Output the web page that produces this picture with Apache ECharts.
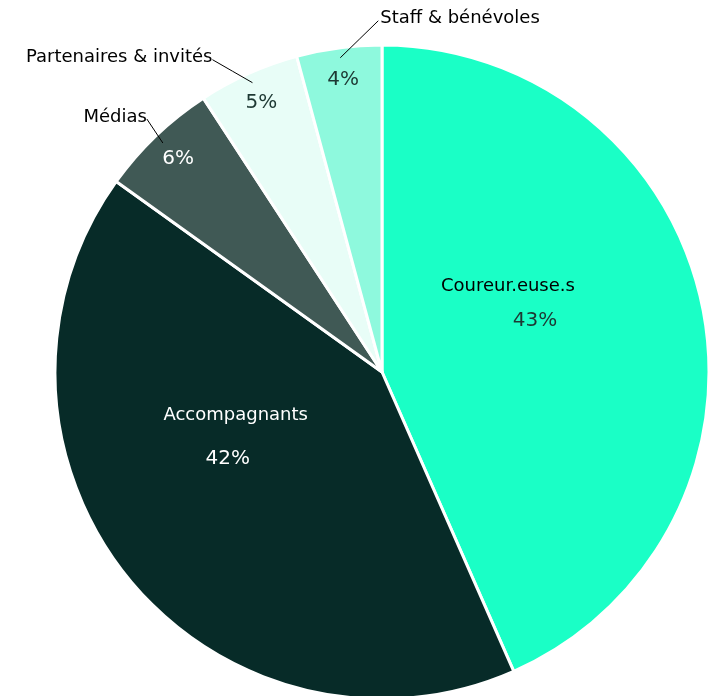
<!DOCTYPE html>
<html>
<head>
<meta charset="utf-8">
<script src="https://cdn.jsdelivr.net/npm/echarts@6/dist/echarts.min.js"></script>
<style>
    html, body { margin: 0; padding: 0; background: #fff; }
    #main { width: 713px; height: 696px; }
</style>
</head>
<body>
<div id="main"></div>
<script>
var categories = ['Coureur.euse.s', 'Accompagnants', 'Médias', 'Partenaires & invités', 'Staff & bénévoles'];
var values = [43.4, 41.5, 5.9, 5.0, 4.2];
var colors = ['#1affc6', '#072b28', '#405955', '#e8fdf7', '#8ef9dd'];
var textColors = ['#0d1f1c', '#ffffff', '#ffffff', '#1d3833', '#1d3833'];
var outsideNames = ['Médias', 'Partenaires & invités', 'Staff & bénévoles'];

var font = '"DejaVu Sans", "Noto Sans", sans-serif';
var fs = 18;     // noms
var fsPct = 20;  // pourcentages

var cx = 382, cy = 372, R = 327;

var isBig = function (i) { return outsideNames.indexOf(categories[i]) < 0; };
var pct = function (p) { return Math.round(p.percent) + '%'; };

var total = values.reduce(function (a, b) { return a + b; }, 0);
// angle milieu de chaque part, en degres depuis le haut, sens horaire
var midAngle = function (i) {
    var before = 0;
    for (var k = 0; k < i; k++) before += values[k];
    return (before + values[i] / 2) / total * 360;
};

var mainData = categories.map(function (c, i) {
    return {
        name: c,
        value: values[i],
        itemStyle: { color: colors[i] },
        label: { show: isBig(i) }
    };
});

var ringData = categories.map(function (c, i) {
    return {
        name: c,
        value: values[i],
        label: { show: !isBig(i), color: textColors[i] }
    };
});

var ghostData = categories.map(function (c, i) {
    return {
        name: c,
        value: values[i],
        label: { show: !isBig(i) },
        labelLine: { show: !isBig(i) }
    };
});

var insideShift = [[-37, -34], [-17, -40]];
var leader = [null, null, [-16, -24, 'right'], [-40, -23, 'right'], [38, -37, 'left']];

var option = {
    backgroundColor: '#ffffff',
    animation: false,
    series: [
        {
            type: 'pie',
            z: 2,
            center: [cx, cy],
            radius: R,
            startAngle: 90,
            clockwise: true,
            data: mainData,
            itemStyle: { borderColor: '#ffffff', borderWidth: 3 },
            label: {
                position: 'inside',
                fontFamily: font,
                fontSize: fs,
                formatter: function (p) {
                    if (p.dataIndex === 0) {
                        return '{n0|' + p.name + '}\n{p0|' + pct(p) + '}';
                    }
                    return '{n1|' + p.name + '}\n{p1|' + pct(p) + '}';
                },
                rich: {
                    n0: { fontFamily: font, fontSize: fs, color: '#000000', lineHeight: 34 },
                    p0: { fontFamily: font, fontSize: fsPct, color: '#1d3833', lineHeight: 34, padding: [0, 0, 0, 54] },
                    n1: { fontFamily: font, fontSize: fs, color: '#ffffff', lineHeight: 43 },
                    p1: { fontFamily: font, fontSize: fsPct, color: '#ffffff', lineHeight: 43, padding: [0, 16, 0, 0] }
                }
            },
            labelLayout: function (p) {
                var s = insideShift[p.dataIndex];
                return s ? { dx: s[0], dy: s[1] } : {};
            },
            labelLine: { show: false }
        },
        {
            type: 'pie',
            z: 3,
            center: [cx, cy],
            radius: [252, 332],
            startAngle: 90,
            clockwise: true,
            silent: true,
            data: ringData,
            itemStyle: { color: 'rgba(0,0,0,0)' },
            label: {
                position: 'inside',
                fontFamily: font,
                fontSize: fsPct,
                formatter: pct
            },
            labelLine: { show: false }
        },
        {
            type: 'pie',
            z: 4,
            center: [cx, cy],
            radius: 317,
            startAngle: 90,
            clockwise: true,
            silent: true,
            data: ghostData,
            itemStyle: { color: 'rgba(0,0,0,0)' },
            label: {
                position: 'outside',
                fontFamily: font,
                fontSize: fs,
                color: '#000000',
                formatter: '{b}'
            },
            labelLine: {
                length: 10,
                length2: 10,
                minTurnAngle: 0,
                maxSurfaceAngle: 180,
                lineStyle: { color: '#000000', width: 1 }
            },
            labelLayout: function (p) {
                var l = leader[p.dataIndex];
                if (!l) return {};
                var ang = midAngle(p.dataIndex) * Math.PI / 180;
                var a = [cx + 317 * Math.sin(ang), cy - 317 * Math.cos(ang)];
                var b = [a[0] + l[0], a[1] + l[1]];
                var m = [(a[0] + b[0]) / 2, (a[1] + b[1]) / 2];
                return {
                    x: b[0] + (l[2] === 'left' ? 2 : 0),
                    y: b[1] - 2,
                    align: l[2],
                    verticalAlign: 'middle',
                    labelLinePoints: [a, m, b]
                };
            }
        }
    ]
};

var myChart = echarts.init(document.getElementById('main'));
myChart.setOption(option);
</script>
</body>
</html>
